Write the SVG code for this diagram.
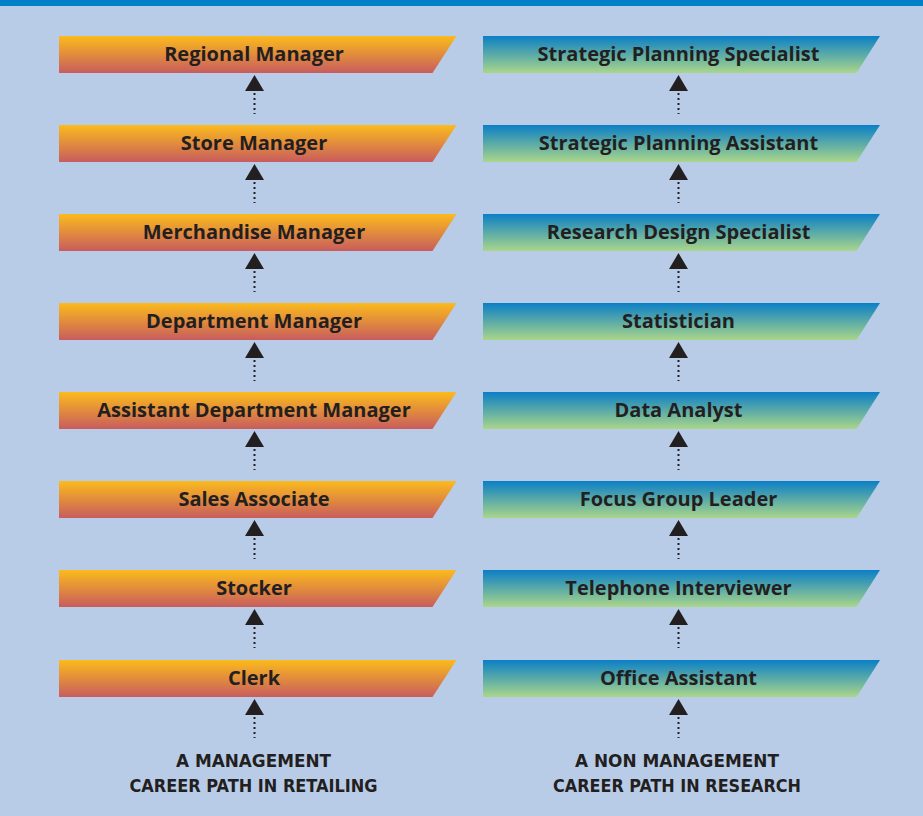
<svg xmlns="http://www.w3.org/2000/svg" width="923" height="816" viewBox="0 0 923 816">
<style>
.lbl{font-family:"Open Sans","Noto Sans","Liberation Sans",sans-serif;font-weight:bold;font-size:20px;fill:#231f20;text-anchor:middle}
.cap{font-family:"Liberation Sans Narrow","DejaVu Sans Condensed","Liberation Sans",sans-serif;font-weight:bold;font-size:17px;fill:#231f20;text-anchor:middle}
.dots{stroke:#231f20;stroke-width:2;stroke-dasharray:2 3}
.head{fill:#231f20}
</style>
<defs>
<linearGradient id="gOr" x1="0" y1="0" x2="0" y2="1">
<stop offset="0" stop-color="#fbbb1c"/><stop offset="1" stop-color="#c85c5e"/>
</linearGradient>
<linearGradient id="gBl" x1="0" y1="0" x2="0" y2="1">
<stop offset="0" stop-color="#0b7fc6"/><stop offset="1" stop-color="#aad68a"/>
</linearGradient>
<path id="boxL" d="M59,0 H456.5 L432.5,37 H59 Z"/>
<path id="boxR" d="M483,0 H880 L856.5,37 H483 Z"/>
<g id="arrL"><path class="head" d="M254.5,39 L264,55 L245,55 Z"/><line class="dots" x1="254.5" y1="57" x2="254.5" y2="78"/></g>
<g id="arrR"><path class="head" d="M678.5,39 L688,55 L669,55 Z"/><line class="dots" x1="678.5" y1="57" x2="678.5" y2="78"/></g>
</defs>
<rect x="0" y="0" width="923" height="816" fill="#b8cce8"/>
<rect x="0" y="0" width="923" height="6" fill="#0080c6"/>

<g id="connectors">
<use href="#arrL" y="36"/><use href="#arrL" y="125"/><use href="#arrL" y="214"/><use href="#arrL" y="303"/>
<use href="#arrL" y="392"/><use href="#arrL" y="481"/><use href="#arrL" y="570"/><use href="#arrL" y="660"/>
<use href="#arrR" y="36"/><use href="#arrR" y="125"/><use href="#arrR" y="214"/><use href="#arrR" y="303"/>
<use href="#arrR" y="392"/><use href="#arrR" y="481"/><use href="#arrR" y="570"/><use href="#arrR" y="660"/>
</g>

<g id="regional-manager" transform="translate(0,36)"><use href="#boxL" fill="url(#gOr)"/><text class="lbl" x="254" y="25">Regional Manager</text></g>
<g id="store-manager" transform="translate(0,125)"><use href="#boxL" fill="url(#gOr)"/><text class="lbl" x="254" y="25">Store Manager</text></g>
<g id="merchandise-manager" transform="translate(0,214)"><use href="#boxL" fill="url(#gOr)"/><text class="lbl" x="254" y="25">Merchandise Manager</text></g>
<g id="department-manager" transform="translate(0,303)"><use href="#boxL" fill="url(#gOr)"/><text class="lbl" x="254" y="25">Department Manager</text></g>
<g id="assistant-department-manager" transform="translate(0,392)"><use href="#boxL" fill="url(#gOr)"/><text class="lbl" x="254" y="25">Assistant Department Manager</text></g>
<g id="sales-associate" transform="translate(0,481)"><use href="#boxL" fill="url(#gOr)"/><text class="lbl" x="254" y="25">Sales Associate</text></g>
<g id="stocker" transform="translate(0,570)"><use href="#boxL" fill="url(#gOr)"/><text class="lbl" x="254" y="25">Stocker</text></g>
<g id="clerk" transform="translate(0,660)"><use href="#boxL" fill="url(#gOr)"/><text class="lbl" x="254" y="25">Clerk</text></g>

<g id="strategic-planning-specialist" transform="translate(0,36)"><use href="#boxR" fill="url(#gBl)"/><text class="lbl" x="678.5" y="25">Strategic Planning Specialist</text></g>
<g id="strategic-planning-assistant" transform="translate(0,125)"><use href="#boxR" fill="url(#gBl)"/><text class="lbl" x="678.5" y="25">Strategic Planning Assistant</text></g>
<g id="research-design-specialist" transform="translate(0,214)"><use href="#boxR" fill="url(#gBl)"/><text class="lbl" x="678.5" y="25">Research Design Specialist</text></g>
<g id="statistician" transform="translate(0,303)"><use href="#boxR" fill="url(#gBl)"/><text class="lbl" x="678.5" y="25">Statistician</text></g>
<g id="data-analyst" transform="translate(0,392)"><use href="#boxR" fill="url(#gBl)"/><text class="lbl" x="678.5" y="25">Data Analyst</text></g>
<g id="focus-group-leader" transform="translate(0,481)"><use href="#boxR" fill="url(#gBl)"/><text class="lbl" x="678.5" y="25">Focus Group Leader</text></g>
<g id="telephone-interviewer" transform="translate(0,570)"><use href="#boxR" fill="url(#gBl)"/><text class="lbl" x="678.5" y="25">Telephone Interviewer</text></g>
<g id="office-assistant" transform="translate(0,660)"><use href="#boxR" fill="url(#gBl)"/><text class="lbl" x="678.5" y="25">Office Assistant</text></g>

<g id="caption-left">
<text class="cap" x="253.5" y="767" textLength="155" lengthAdjust="spacingAndGlyphs">A MANAGEMENT</text>
<text class="cap" x="253.5" y="792" textLength="248" lengthAdjust="spacingAndGlyphs">CAREER PATH IN RETAILING</text>
</g>
<g id="caption-right">
<text class="cap" x="677" y="767" textLength="204" lengthAdjust="spacingAndGlyphs">A NON MANAGEMENT</text>
<text class="cap" x="677" y="792" textLength="248" lengthAdjust="spacingAndGlyphs">CAREER PATH IN RESEARCH</text>
</g>
</svg>
